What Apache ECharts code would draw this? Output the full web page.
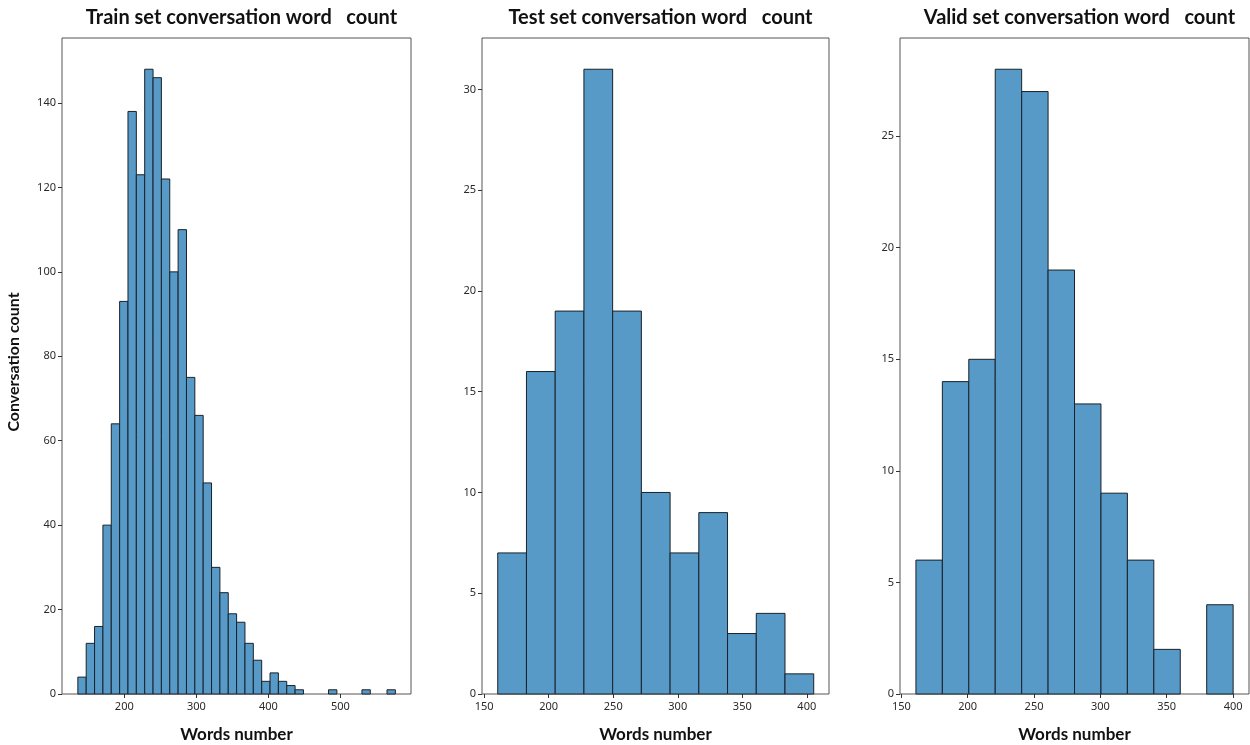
<!DOCTYPE html>
<html>
<head>
<meta charset="utf-8">
<script src="https://cdn.jsdelivr.net/npm/echarts@6/dist/echarts.min.js"></script>
<style>
  html, body { margin: 0; padding: 0; background: #fff; }
  #chart { width: 1250px; height: 745px; }
</style>
</head>
<body>
<div id="chart"></div>
<script>
"use strict";

// histogram counts
var trainCounts = [4, 12, 16, 40, 64, 93, 138, 123, 148, 146, 122, 100, 110, 75, 66, 50, 30, 24, 19,
    17, 12, 8, 3, 5, 3, 2, 1, 0, 0, 0, 1, 0, 0, 0, 1, 0, 0, 1];
var trainBinStart = 135.5;
var trainBinWidth = 11.6;

var testCounts = [7, 16, 19, 31, 19, 10, 7, 9, 3, 4, 1];
var testBinStart = 160.5;
var testBinWidth = 22.26;

var validCounts = [6, 14, 15, 28, 27, 19, 13, 9, 6, 2, 0, 4];
var validBinStart = 161;
var validBinWidth = 19.92;

var trainXTicks = [200, 300, 400, 500];
var testXTicks = [150, 200, 250, 300, 350, 400];
var validXTicks = [150, 200, 250, 300, 350, 400];
var trainYTicks = [0, 20, 40, 60, 80, 100, 120, 140];
var testYTicks = [0, 5, 10, 15, 20, 25, 30];
var validYTicks = [0, 5, 10, 15, 20, 25];

var titles = ['Train set conversation word   count', 'Test set conversation word   count', 'Valid set conversation word   count'];

var barColor = '#5799c7';
var edgeColor = '#1a2229';
var labelFont = 'Lato';

function binRows(counts, start, width) {
    var rows = [];
    for (var i = 0; i < counts.length; i++) {
        rows.push([start + i * width, start + (i + 1) * width, counts[i]]);
    }
    return rows;
}

function histItem(params, api) {
    if (!api.value(2)) return null;
    var lo = api.coord([api.value(0), 0]);
    var hi = api.coord([api.value(1), api.value(2)]);
    return {
        type: 'rect',
        shape: { x: lo[0], y: hi[1], width: hi[0] - lo[0], height: lo[1] - hi[1] },
        style: { fill: barColor, stroke: edgeColor, lineWidth: 1 }
    };
}

function xAxisFor(idx, min, max, ticks) {
    return {
        type: 'value', gridIndex: idx, min: min, max: max,
        name: 'Words number', nameLocation: 'middle', nameGap: 32,
        nameTextStyle: { fontFamily: labelFont, fontWeight: 'bold', fontSize: 17, color: '#111' },
        axisLine: { show: false },
        axisTick: { show: true, inside: false, length: 4, customValues: ticks, lineStyle: { color: '#333' } },
        axisLabel: { customValues: ticks, fontFamily: 'Noto Sans', fontSize: 11, color: '#2a2a2a', margin: 7 },
        splitLine: { show: false }
    };
}

function yAxisFor(idx, max, ticks, name) {
    return {
        type: 'value', gridIndex: idx, min: 0, max: max,
        name: name, nameLocation: 'middle', nameGap: 40,
        nameTextStyle: { fontFamily: labelFont, fontWeight: 'bold', fontSize: 16, color: '#111', padding: [0, 0, 0, 8] },
        axisLine: { show: false },
        axisTick: { show: true, length: 4, customValues: ticks, lineStyle: { color: '#333' } },
        axisLabel: { customValues: ticks, fontFamily: 'Noto Sans', fontSize: 11, color: '#2a2a2a', margin: 6 },
        splitLine: { show: false }
    };
}

var panels = [
    { left: 62, right: 411 },
    { left: 482, right: 829 },
    { left: 900, right: 1249 }
];

var chart = echarts.init(document.getElementById('chart'), null, { renderer: 'canvas' });

chart.setOption({
    animation: false,
    backgroundColor: '#ffffff',
    title: panels.map(function (p, i) {
        return {
            text: titles[i],
            left: (p.left + p.right) / 2,
            textAlign: 'center',
            top: 3,
            textStyle: { fontFamily: labelFont, fontWeight: 'bold', fontSize: 20, color: '#111' }
        };
    }),
    grid: panels.map(function (p) {
        return {
            left: p.left, right: 1250 - p.right, top: 38, bottom: 51,
            outerBoundsMode: 'none', containLabel: false,
            show: true, borderColor: '#555', borderWidth: 1, backgroundColor: 'transparent'
        };
    }),
    xAxis: [
        xAxisFor(0, 113.5, 598, trainXTicks),
        xAxisFor(1, 148.3, 417.2, testXTicks),
        xAxisFor(2, 149, 412, validXTicks)
    ],
    yAxis: [
        yAxisFor(0, 155.4, trainYTicks, 'Conversation count'),
        yAxisFor(1, 32.55, testYTicks, ''),
        yAxisFor(2, 29.4, validYTicks, '')
    ],
    series: [
        { type: 'custom', xAxisIndex: 0, yAxisIndex: 0, renderItem: histItem,
          encode: { x: [0, 1], y: 2 }, data: binRows(trainCounts, trainBinStart, trainBinWidth) },
        { type: 'custom', xAxisIndex: 1, yAxisIndex: 1, renderItem: histItem,
          encode: { x: [0, 1], y: 2 }, data: binRows(testCounts, testBinStart, testBinWidth) },
        { type: 'custom', xAxisIndex: 2, yAxisIndex: 2, renderItem: histItem,
          encode: { x: [0, 1], y: 2 }, data: binRows(validCounts, validBinStart, validBinWidth) }
    ]
});
</script>
</body>
</html>
